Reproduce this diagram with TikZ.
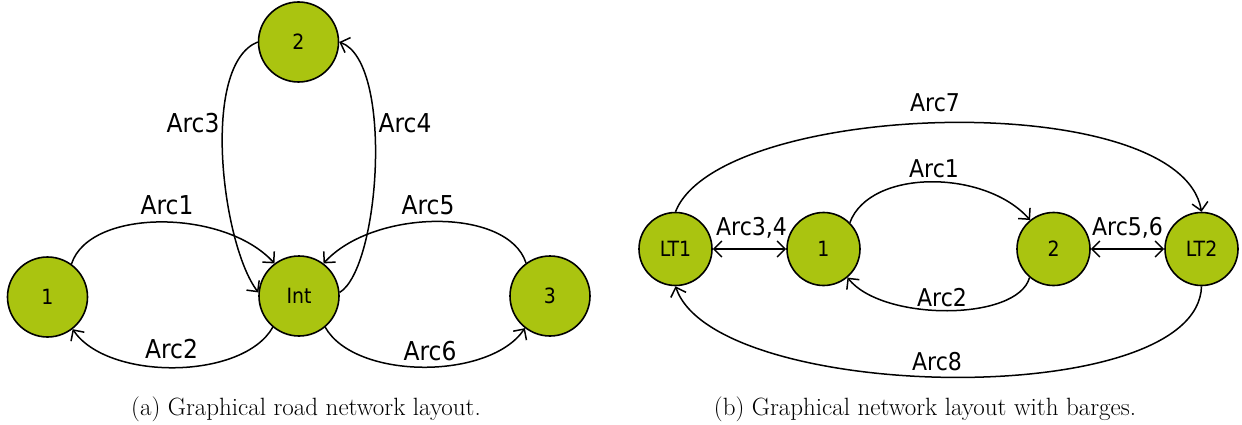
\documentclass[tikz,border=0pt]{standalone}
\usepackage{fontspec}
\usetikzlibrary{arrows.meta}
\newfontfamily\lblfont[FakeStretch=0.9]{DejaVu Sans}
\definecolor{nodegreen}{RGB}{170,196,16}
\begin{document}
\begin{tikzpicture}[x=1pt,y=-1pt,
  vert/.style={circle,draw=black,line width=1.6pt,fill=nodegreen,inner sep=0pt,
    font=\lblfont\fontsize{21}{24}\selectfont},
  bigvert/.style={vert,minimum size=80pt},
  smallvert/.style={vert,minimum size=73pt},
  tip/.tip={Straight Barb[length=8pt,width=16pt,line width=1.5pt]},
  arc/.style={line width=1.5pt,-tip},
  darc/.style={line width=1.5pt,tip-tip},
  lblA/.style={anchor=base,inner sep=0pt,font=\lblfont\fontsize{26}{30}\selectfont},
  lblB/.style={anchor=base,inner sep=0pt,font=\lblfont\fontsize{24.5}{29}\selectfont},
  capt/.style={anchor=base,inner sep=0pt,font=\fontsize{25}{30}\selectfont}]
\useasboundingbox (0,0) rectangle (1242,425);

% ---------- road network ----------
\node[bigvert] (a1) at (47.5,297) {1};
\node[bigvert] (ai) at (299,296) {Int};
\node[bigvert] (a3) at (550,296) {3};
\node[bigvert] (a2) at (298.5,42) {2};

\draw[arc] (a1.54) .. controls +(18,-56) and +(-50,-55) .. (ai.127);
\draw[arc] (ai.230) .. controls +(-30,53) and +(35,52) .. (a1.-52);
\draw[arc] (a2.180) .. controls (200,65) and (222,245) .. (ai.175);
\draw[arc] (ai.5) .. controls (380,268) and (394,62) .. (a2.0);
\draw[arc] (a3.126) .. controls +(-18,-56) and +(50,-55) .. (ai.53);
\draw[arc] (ai.-50) .. controls +(30,53) and +(-35,52) .. (a3.232);

\node[lblA] (la1) at (167,214) {Arc1};
\node[lblA] (la2) at (171.5,358) {Arc2};
\node[lblA] (la3) at (193,133) {Arc3};
\node[lblA] (la4) at (405,133) {Arc4};
\node[lblA] (la5) at (428,214) {Arc5};
\node[lblA] (la6) at (430,360) {Arc6};

\node[capt] (capa) at (306,415) {(a) Graphical road network layout.};

% ---------- network with barges ----------
\node[smallvert] (lt1) at (675.5,249) {LT1};
\node[smallvert] (b1) at (823.5,249) {1};
\node[smallvert] (b2) at (1053.5,249) {2};
\node[smallvert] (lt2) at (1201.5,249) {LT2};

\draw[darc] (lt1.east) -- (b1.west);
\draw[darc] (b2.east) -- (lt2.west);
\draw[arc] (b1.45) .. controls +(20,-54) and +(-45,-51) .. (b2.129);
\draw[arc] (b2.-130) .. controls +(-12,44) and +(35,44) .. (b1.-50);
\draw[arc] (lt1.north) .. controls (720,100) and (1180,86) .. (lt2.north);
\draw[arc] (lt2.south) .. controls (1198,412) and (715,403) .. (lt1.south);

\node[lblB] (lb34) at (751.5,235) {Arc3,4};
\node[lblB] (lb56) at (1127.5,235) {Arc5,6};
\node[lblB] (lb7) at (935,112) {Arc7};
\node[lblB] (lb1) at (934,177) {Arc1};
\node[lblB] (lb2) at (942,306) {Arc2};
\node[lblB] (lb8) at (937,370) {Arc8};

\node[capt] (capb) at (925,415) {(b) Graphical network layout with barges.};
\end{tikzpicture}
\end{document}
